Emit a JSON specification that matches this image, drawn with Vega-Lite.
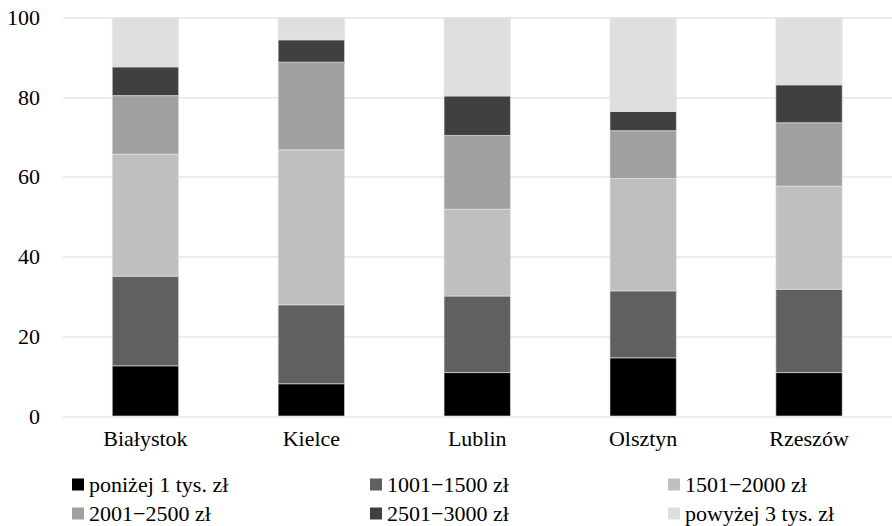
{
  "$schema": "https://vega.github.io/schema/vega-lite/v6.json",
  "width": 829.5,
  "height": 398.5,
  "autosize": {"type": "none"},
  "padding": {"left": 62.5, "top": 17.5, "right": 0, "bottom": 110},
  "background": "white",
  "config": {
    "view": {"stroke": null},
    "font": "Liberation Serif",
    "axis": {"labelFont": "Liberation Serif", "labelFontSize": 22, "labelColor": "#000000"},
    "legend": {"labelFont": "Liberation Serif", "labelFontSize": 22, "labelColor": "#000000"}
  },
  "data": {
    "values": [
      {"miasto": "Białystok", "k": 1, "kat": "poniżej 1 tys. zł", "v": 12.6},
      {"miasto": "Białystok", "k": 2, "kat": "1001−1500 zł", "v": 22.5},
      {"miasto": "Białystok", "k": 3, "kat": "1501−2000 zł", "v": 30.6},
      {"miasto": "Białystok", "k": 4, "kat": "2001−2500 zł", "v": 14.7},
      {"miasto": "Białystok", "k": 5, "kat": "2501−3000 zł", "v": 7.2},
      {"miasto": "Białystok", "k": 6, "kat": "powyżej 3 tys. zł", "v": 12.4},
      {"miasto": "Kielce", "k": 1, "kat": "poniżej 1 tys. zł", "v": 8.1},
      {"miasto": "Kielce", "k": 2, "kat": "1001−1500 zł", "v": 19.8},
      {"miasto": "Kielce", "k": 3, "kat": "1501−2000 zł", "v": 38.9},
      {"miasto": "Kielce", "k": 4, "kat": "2001−2500 zł", "v": 22.0},
      {"miasto": "Kielce", "k": 5, "kat": "2501−3000 zł", "v": 5.6},
      {"miasto": "Kielce", "k": 6, "kat": "powyżej 3 tys. zł", "v": 5.6},
      {"miasto": "Lublin", "k": 1, "kat": "poniżej 1 tys. zł", "v": 10.9},
      {"miasto": "Lublin", "k": 2, "kat": "1001−1500 zł", "v": 19.2},
      {"miasto": "Lublin", "k": 3, "kat": "1501−2000 zł", "v": 21.8},
      {"miasto": "Lublin", "k": 4, "kat": "2001−2500 zł", "v": 18.5},
      {"miasto": "Lublin", "k": 5, "kat": "2501−3000 zł", "v": 9.9},
      {"miasto": "Lublin", "k": 6, "kat": "powyżej 3 tys. zł", "v": 19.7},
      {"miasto": "Olsztyn", "k": 1, "kat": "poniżej 1 tys. zł", "v": 14.6},
      {"miasto": "Olsztyn", "k": 2, "kat": "1001−1500 zł", "v": 16.8},
      {"miasto": "Olsztyn", "k": 3, "kat": "1501−2000 zł", "v": 28.2},
      {"miasto": "Olsztyn", "k": 4, "kat": "2001−2500 zł", "v": 12.0},
      {"miasto": "Olsztyn", "k": 5, "kat": "2501−3000 zł", "v": 4.8},
      {"miasto": "Olsztyn", "k": 6, "kat": "powyżej 3 tys. zł", "v": 23.6},
      {"miasto": "Rzeszów", "k": 1, "kat": "poniżej 1 tys. zł", "v": 10.9},
      {"miasto": "Rzeszów", "k": 2, "kat": "1001−1500 zł", "v": 20.9},
      {"miasto": "Rzeszów", "k": 3, "kat": "1501−2000 zł", "v": 25.9},
      {"miasto": "Rzeszów", "k": 4, "kat": "2001−2500 zł", "v": 15.9},
      {"miasto": "Rzeszów", "k": 5, "kat": "2501−3000 zł", "v": 9.5},
      {"miasto": "Rzeszów", "k": 6, "kat": "powyżej 3 tys. zł", "v": 16.9}
    ]
  },
  "mark": {"type": "bar", "stroke": "#e6e6e6", "strokeWidth": 0.6},
  "encoding": {
    "x": {
      "field": "miasto",
      "type": "nominal",
      "sort": null,
      "scale": {"paddingInner": 0.6, "paddingOuter": 0.3},
      "axis": {
        "title": null,
        "labelAngle": 0,
        "domain": false,
        "ticks": false,
        "tickSize": 0,
        "labelPadding": 12,
        "grid": false
      }
    },
    "y": {
      "field": "v",
      "type": "quantitative",
      "stack": "zero",
      "scale": {"domain": [0, 100], "nice": false},
      "axis": {
        "title": null,
        "values": [0, 20, 40, 60, 80, 100],
        "domain": false,
        "ticks": false,
        "tickSize": 0,
        "labelPadding": 23,
        "grid": true,
        "gridColor": "#d9d9d9",
        "gridWidth": 1.2
      }
    },
    "order": {"field": "k", "type": "quantitative", "sort": "ascending"},
    "color": {
      "field": "kat",
      "type": "nominal",
      "sort": null,
      "scale": {
        "domain": ["poniżej 1 tys. zł", "1001−1500 zł", "1501−2000 zł", "2001−2500 zł", "2501−3000 zł", "powyżej 3 tys. zł"],
        "range": ["#000000", "#606060", "#bfbfbf", "#a0a0a0", "#404040", "#dfdfdf"]
      },
      "legend": {
        "title": null,
        "orient": "none",
        "legendX": 4.5,
        "legendY": 456,
        "direction": "horizontal",
        "columns": 3,
        "gridAlign": "all",
        "columnPadding": 126,
        "rowPadding": 7,
        "symbolType": "square",
        "symbolSize": 144,
        "symbolStrokeWidth": 0,
        "labelOffset": 0
      }
    }
  }
}
